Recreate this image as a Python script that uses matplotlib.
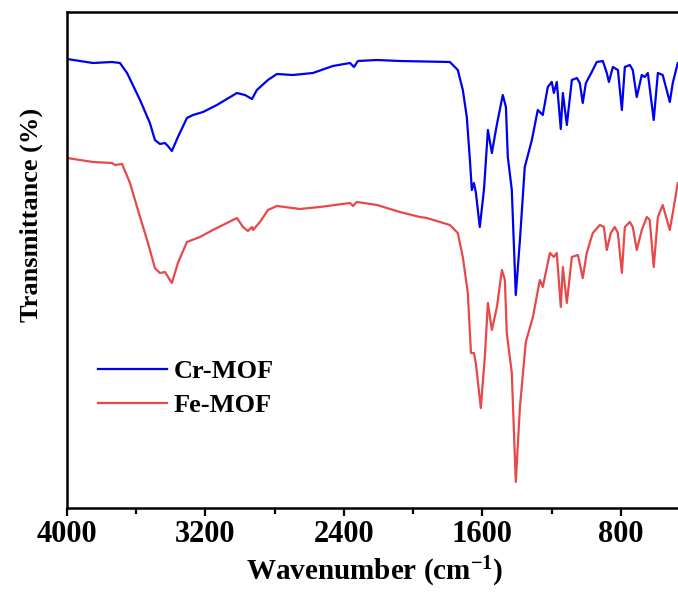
import matplotlib
matplotlib.use("Agg")
import matplotlib.pyplot as plt
import numpy as np

plt.rcParams['font.family'] = ['Liberation Serif', 'DejaVu Serif']
plt.rcParams['font.weight'] = 'bold'
plt.rcParams['mathtext.fontset'] = 'custom'
plt.rcParams['mathtext.rm'] = 'Liberation Serif:bold'
plt.rcParams['mathtext.it'] = 'Liberation Serif:bold'

# FTIR spectra (wavenumber in cm-1, transmittance in arbitrary %)
cr_wn = [4000, 3850, 3740, 3694, 3653, 3578, 3521, 3492, 3463, 3434, 3417, 3394,
         3359, 3307, 3272, 3214, 3134, 3076, 3018, 2972, 2931, 2903, 2839, 2787,
         2695, 2579, 2464, 2365, 2342, 2319, 2209, 2077, 1788, 1742, 1713, 1690,
         1672, 1661, 1649, 1638, 1615, 1591, 1568, 1545, 1522, 1511, 1482, 1464,
         1453, 1430, 1407, 1383, 1355, 1314, 1280, 1251, 1222, 1199, 1187, 1170,
         1147, 1135, 1112, 1083, 1054, 1037, 1020, 1002, 968, 939, 904, 881, 869,
         846, 817, 794, 777, 748, 731, 708, 679, 662, 644, 610, 586, 558, 517,
         500, 471]
cr_t = [92.2, 91.4, 91.6, 91.4, 89.4, 84.0, 79.4, 76.0, 75.2, 75.4, 74.8, 73.8,
        76.6, 80.4, 81.0, 81.6, 83.0, 84.2, 85.4, 85.0, 84.2, 86.0, 88.0, 89.2,
        89.0, 89.4, 90.8, 91.4, 90.6, 91.8, 92.0, 91.8, 91.6, 90.0, 86.0, 80.6,
        72.0, 66.0, 67.4, 65.6, 58.6, 66.0, 78.0, 73.4, 78.0, 80.0, 85.0, 82.6,
        72.6, 66.0, 45.0, 56.0, 70.6, 76.0, 82.0, 81.0, 86.6, 87.6, 85.4, 87.6,
        78.2, 85.4, 79.0, 88.0, 88.4, 87.4, 83.4, 87.4, 89.6, 91.6, 91.8, 89.4, 87.6,
        90.6, 90.0, 82.0, 90.6, 91.0, 90.0, 84.6, 89.0, 88.6, 89.4, 80.0, 89.4, 89.0, 83.6,
        87.4, 91.4]

fe_wn = [4000, 3850, 3740, 3722, 3682, 3636, 3578, 3532, 3492, 3463, 3434, 3394,
         3359, 3307, 3232, 3157, 3076, 3018, 2983, 2955, 2931, 2925, 2885, 2839,
         2787, 2654, 2539, 2365, 2348, 2325, 2209, 2077, 1961, 1921, 1788, 1742,
         1713, 1684, 1666, 1649, 1638, 1609, 1586, 1568, 1545, 1516, 1487, 1470,
         1459, 1430, 1407, 1383, 1349, 1308, 1268, 1251, 1210, 1187, 1170, 1147,
         1135, 1112, 1083, 1048, 1020, 997, 962, 921, 898, 881, 858, 835, 817,
         794, 777, 748, 731, 708, 679, 650, 633, 610, 586, 558, 517, 500, 471]
fe_t = [72.4, 71.6, 71.4, 71.0, 71.2, 67.4, 60.6, 55.4, 50.4, 49.4, 49.6, 47.4,
        51.4, 55.6, 56.6, 58.0, 59.4, 60.4, 58.6, 57.8, 58.6, 58.0, 59.6, 62.0,
        62.8, 62.2, 62.6, 63.4, 62.8, 63.6, 63.0, 61.6, 60.6, 60.4, 59.0, 57.4,
        52.6, 45.4, 33.4, 33.4, 31.4, 22.4, 32.6, 43.4, 38.0, 42.6, 50.0, 48.0,
        37.4, 29.4, 7.6, 22.6, 35.6, 40.6, 48.0, 46.6, 53.4, 52.6, 53.4, 42.6,
        50.6, 43.4, 52.6, 53.0, 48.4, 53.4, 57.4, 59.0, 58.6, 54.0, 57.4, 58.6, 57.4,
        49.4, 58.6, 59.6, 58.6, 54.0, 58.0, 60.6, 60.0, 50.6, 60.6, 63.0, 58.0, 61.4, 67.4]

fig = plt.figure(figsize=(6.78, 5.94), dpi=100)
# right spine falls just outside the canvas
ax = fig.add_axes([0.0988, 0.1448, 0.919, 0.835])

ax.plot(cr_wn, cr_t, color='#0000f0', lw=1.6, label='Cr-MOF')
ax.plot(fe_wn, fe_t, color='#e84848', lw=1.6, label='Fe-MOF')

ax.set_xlim(4000, 400)
ax.set_ylim(2.4, 101.6)
ax.set_xticks([4000, 3200, 2400, 1600, 800])
ax.set_xticks([3600, 2800, 2000, 1200], minor=True)
ax.set_yticks([])
ax.tick_params(axis='x', which='major', direction='out', length=6, width=1.6,
               labelsize=22, pad=3)
ax.tick_params(axis='x', which='minor', direction='out', length=4, width=1.6)
for s in ax.spines.values():
    s.set_linewidth(1.8)

ax.set_xlabel(r'Wavenumber (cm$^{\mathrm{-1}}$)', fontsize=21, fontweight='bold', va='top')
ax.xaxis.set_label_coords(0.494, -0.095)
ax.set_ylabel('Transmittance (%)', fontsize=19, fontweight='bold')
ax.yaxis.set_label_coords(-0.038, 0.59)

ax.legend(loc='upper left', bbox_to_anchor=(0.012, 0.347), frameon=False,
          handlelength=2.6, labelspacing=0.4, handletextpad=0.25,
          prop={'weight': 'bold', 'size': 19})

fig.savefig('out.png', dpi=100)
